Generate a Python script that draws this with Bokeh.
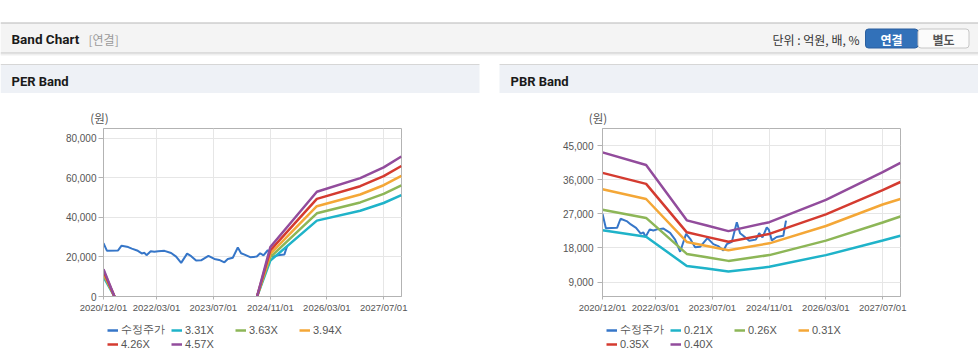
import numpy as np
import pandas as pd
from bokeh.plotting import figure
from bokeh.models import (Range1d, FixedTicker, DatetimeTickFormatter, NumeralTickFormatter,
                          Legend, LegendItem)
from bokeh.layouts import column, row
from bokeh.embed import file_html
from bokeh.resources import INLINE
from bokeh.core.properties import value

nan = np.nan

# ---------------- data ----------------
price_label = "수정주가"
price_dates = ["2020-12-01", "2020-12-30", "2021-04-05", "2021-05-05", "2021-07-01", "2021-08-01",
               "2021-09-15", "2021-10-25", "2021-11-17", "2021-12-05", "2022-01-10", "2022-02-10",
               "2022-03-15", "2022-05-08", "2022-07-04", "2022-08-16", "2022-09-28", "2022-11-18",
               "2022-12-23", "2023-02-03", "2023-03-18", "2023-05-20", "2023-07-10", "2023-08-20",
               "2023-10-04", "2023-11-02", "2023-12-15", "2024-01-27", "2024-02-24", "2024-03-20",
               "2024-05-12", "2024-07-08", "2024-08-06", "2024-09-03", "2024-10-10", "2024-10-28",
               "2024-11-22", "2025-01-03", "2025-03-01", "2025-03-12", "2025-03-24"]
price_vals = [27000, 23200, 23300, 25700, 25000, 24200,
              23300, 21800, 22100, 20900, 22900, 22600,
              22900, 23100, 22000, 20200, 17000, 21700,
              20400, 18200, 18300, 20600, 19000, 18500,
              17300, 19000, 19600, 24800, 21900, 21300,
              19900, 20200, 21900, 20800, 23400, 22800,
              20000, 20900, 21200, 23200, 25200]

per_labels = ["3.31X", "3.63X", "3.94X", "4.26X", "4.57X"]
per_dates = ["2020-12-01", "2021-03-05", "2022-12-01", "2024-07-10", "2024-11-01",
             "2025-12-05", "2026-12-12", "2027-07-01", "2027-11-30"]
per_331 = [10000, 0, nan, 0, 18150, 38400, 43400, 47300, 51300]
per_363 = [10960, 0, nan, 0, 19900, 42100, 47600, 51900, 56270]
per_394 = [11900, 0, nan, 0, 21600, 45700, 51600, 56300, 61070]
per_426 = [12870, 0, nan, 0, 23350, 49400, 55800, 60900, 66030]
per_457 = [13800, 0, nan, 0, 25050, 53000, 59900, 65350, 70840]

pbr_labels = ["0.21X", "0.26X", "0.31X", "0.35X", "0.40X"]
pbr_dates = ["2020-12-01", "2021-12-10", "2022-11-24", "2023-05-15", "2023-11-16",
             "2024-11-01", "2026-03-01", "2027-07-01", "2027-11-30"]
pbr_021 = [22680, 20940, 13270, 12560, 11780, 13020, 16110, 19950, 21230]
pbr_026 = [28080, 25920, 16430, 15550, 14590, 16120, 19940, 24700, 26290]
pbr_031 = [33480, 30910, 19590, 18540, 17390, 19220, 23780, 29450, 30900]
pbr_035 = [37800, 34900, 22120, 20930, 19640, 21700, 26850, 33250, 35390]
pbr_040 = [43200, 39880, 25280, 23920, 22440, 24800, 30680, 38000, 40440]

x_tick_dates = ["2020-12-01", "2022-03-01", "2023-07-01", "2024-11-01", "2026-03-01", "2027-07-01"]
x_tick_labels = ["2020/12/01", "2022/03/01", "2023/07/01", "2024/11/01", "2026/03/01", "2027/07/01"]
per_y_ticks = [0, 20000, 40000, 60000, 80000]
pbr_y_ticks = [9000, 18000, 27000, 36000, 45000]

# ---------------- styles ----------------
price_color = "#3676C8"
band_colors = ["#1FB3C9", "#8DB657", "#F4A737", "#D43B30", "#924C9C"]
FONT = "Liberation Sans"
KFONT = "Noto Sans CJK KR"

to_dt = lambda lst: pd.to_datetime(lst)
tick_ms = [pd.Timestamp(d).value / 1e6 for d in x_tick_dates]


def make_chart(width, left, right, ymin, ymax, yticks, dates, bands, ystandoff):
    p = figure(width=width, height=192, x_axis_type="datetime",
               x_range=Range1d(pd.Timestamp("2020-12-01"), pd.Timestamp("2027-12-01")),
               y_range=Range1d(ymin, ymax), output_backend="svg", toolbar_location=None,
               min_border_left=left, min_border_right=right, min_border_top=2,
               min_border_bottom=22)
    p.background_fill_color = "white"
    p.border_fill_color = "white"
    p.outline_line_color = "#b3b3b3"
    xt = FixedTicker(ticks=tick_ms)
    p.xaxis.ticker = xt
    p.xgrid.ticker = xt
    fmt = "%Y/%m/%d"
    p.xaxis.formatter = DatetimeTickFormatter(milliseconds=fmt, seconds=fmt, minsec=fmt, minutes=fmt,
                                              hourmin=fmt, hours=fmt, days=fmt, months=fmt, years=fmt)
    p.xaxis.major_label_overrides = {t: l for t, l in zip(tick_ms, x_tick_labels)}
    yt = FixedTicker(ticks=yticks)
    p.yaxis.ticker = yt
    p.ygrid.ticker = yt
    p.yaxis.formatter = NumeralTickFormatter(format="0,0")
    for ax in (p.xaxis, p.yaxis):
        ax.axis_line_color = "#b3b3b3"
        ax.major_tick_line_color = "#b3b3b3"
        ax.minor_tick_line_color = None
        ax.major_tick_in = 0
        ax.major_label_text_color = "#555555"
        ax.major_label_text_font = FONT
    p.xaxis.major_tick_out = 3
    p.xaxis.major_label_standoff = 2
    p.xaxis.major_label_text_font_size = "9.5px"
    p.yaxis.major_tick_out = 5
    p.yaxis.major_label_standoff = ystandoff
    p.yaxis.major_label_text_font_size = "10px"
    p.xgrid.grid_line_color = "#e6e6e6"
    p.ygrid.grid_line_color = "#e6e6e6"

    p.line(to_dt(price_dates), price_vals, line_color=price_color, line_width=2)
    for vals, col in zip(bands, band_colors):
        p.line(to_dt(dates), vals, line_color=col, line_width=2.5)
    return p


def make_legend_fig(width, labels):
    """Legend strip under a chart; its swatches repeat the chart's line styles."""
    lf = figure(width=width, height=46, x_range=Range1d(0, 1), y_range=Range1d(0, 1),
                output_backend="svg", toolbar_location=None, min_border=0,
                x_axis_location=None, y_axis_location=None)
    lf.grid.visible = False
    lf.outline_line_color = None
    lf.background_fill_color = "white"
    lf.border_fill_color = "white"
    names = [price_label] + labels
    colors = [price_color] + band_colors
    widths = [2.5] * len(names)
    items = []
    for name, col, w in zip(names, colors, widths):
        # off-range swatch renderer (only its legend glyph is visible)
        r = lf.line(x=[-3, -2], y=[-3, -2], line_color=col, line_width=w)
        items.append(LegendItem(label=name, renderers=[r]))
    common = dict(orientation="horizontal", margin=0, padding=0, spacing=0,
                  glyph_width=11, glyph_height=12, label_standoff=3, label_width=50,
                  label_height=12, label_text_font=FONT, label_text_font_size="11px",
                  label_text_color="#555555", border_line_color=None, background_fill_alpha=0)
    lf.add_layout(Legend(items=items[:4], location=(107, 27), **common))
    lf.add_layout(Legend(items=items[4:], location=(107, 14), **common))
    return lf


p_per = make_chart(499, 103, 98, 0, 85000, per_y_ticks, per_dates,
                   [per_331, per_363, per_394, per_426, per_457], 2)
p_pbr = make_chart(479, 103, 78, 5200, 49500, pbr_y_ticks, pbr_dates,
                   [pbr_021, pbr_026, pbr_031, pbr_035, pbr_040], 4)
l_per = make_legend_fig(499, per_labels)
l_pbr = make_legend_fig(479, pbr_labels)

# ---------------- header (page decoration) ----------------
h = figure(width=978, height=126, x_range=Range1d(0, 978), y_range=Range1d(126, 0),
           output_backend="svg", toolbar_location=None, min_border=0,
           x_axis_location=None, y_axis_location=None)
h.grid.visible = False
h.outline_line_color = None
h.background_fill_color = "white"
h.border_fill_color = "white"

# top bar
h.quad(left=[0], right=[978], top=[22.5], bottom=[52.5], fill_color="#f4f4f4", line_color=None)
h.segment(x0=[0], x1=[978], y0=[22.5], y1=[22.5], line_color="#b7b7b7", line_width=1)
h.segment(x0=[0, 0, 0], x1=[978, 978, 978], y0=[52.5, 53.5, 54.5], y1=[52.5, 53.5, 54.5],
          line_color=["#c4c4c4", "#dedede", "#f0f0f0"], line_width=1)
h.text(x=[11], y=[38.5], text=["Band Chart"], text_font=value("Roboto"), text_font_style="bold",
       text_font_size="13.5px", text_color="#1a1a1a", text_baseline="middle", text_align="left")
h.text(x=[88], y=[38.5], text=["[연결]"], text_font=value(KFONT), text_font_size="12px",
       text_color="#9a9a9a", text_baseline="middle", text_align="left")
h.text(x=[859], y=[38.5], text=["단위 : 억원, 배, %"], text_font=value(KFONT), text_font_size="12px",
       text_color="#333333", text_baseline="middle", text_align="right")
# toggle buttons
h.quad(left=[865], right=[917.5], top=[28.5], bottom=[47.5], fill_color="#3271b9",
       line_color="#2a5f9f", line_width=1, border_radius=3)
h.quad(left=[917.5], right=[968.5], top=[28.5], bottom=[47.5], fill_color="#fbfbfb",
       line_color="#c6c6c6", line_width=1, border_radius=3)
h.text(x=[891], y=[38.5], text=["연결"], text_font=value(KFONT), text_font_style="bold",
       text_font_size="12px", text_color="white", text_baseline="middle", text_align="center")
h.text(x=[943], y=[38.5], text=["별도"], text_font=value(KFONT), text_font_style="bold",
       text_font_size="12px", text_color="#555555", text_baseline="middle", text_align="center")

# panel headers
h.quad(left=[0, 499], right=[479, 978], top=[64.5, 64.5], bottom=[92.5, 92.5],
       fill_color="#eef1f6", line_color=None)
h.segment(x0=[0, 499], x1=[479, 978], y0=[64, 64], y1=[64, 64], line_color="#d6d6d6", line_width=1)
h.text(x=[11, 510], y=[80.5, 80.5], text=["PER Band", "PBR Band"], text_font=value("Roboto"),
       text_font_style="bold", text_font_size="13px", text_color="#1a1a1a",
       text_baseline="middle", text_align="left")
# unit labels above the plot frames
h.text(x=[99, 597.5], y=[117.5, 117.5], text=["(원)", "(원)"], text_font=value(KFONT),
       text_font_size="11.5px", text_color="#555555", text_baseline="middle", text_align="center")

layout = column(h, row(p_per, p_pbr), row(l_per, l_pbr))
open("out.html", "w").write(file_html(layout, INLINE))
